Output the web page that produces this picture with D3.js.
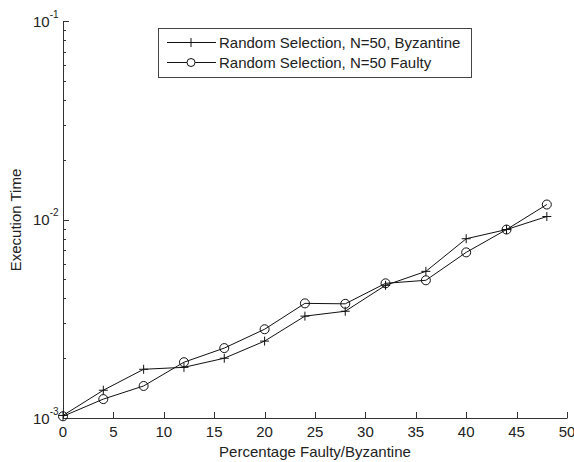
<!DOCTYPE html>
<html>
<head>
<meta charset="utf-8">
<script src="https://cdn.jsdelivr.net/npm/d3@7"></script>
<style>
body { margin:0; background:#fff; }
text { font-family: "Liberation Sans", Arial, sans-serif; fill:#222; }
</style>
</head>
<body>
<svg id="chart" width="574" height="462"></svg>
<script>
var svg = d3.select('#chart');

var pct = [0, 4, 8, 12, 16, 20, 24, 28, 32, 36, 40, 44, 48];

var byzantine = [1.03e-3, 1.38e-3, 1.76e-3, 1.80e-3, 2.0e-3, 2.44e-3, 3.26e-3,
	3.45e-3, 4.66e-3, 5.48e-3, 8.0e-3, 8.9e-3, 1.035e-2];

var faulty = [1.02e-3, 1.245e-3, 1.45e-3, 1.91e-3, 2.25e-3, 2.8e-3, 3.78e-3,
	3.76e-3, 4.77e-3, 4.94e-3, 6.83e-3, 8.9e-3, 1.19e-2];

var xTicks = [0, 5, 10, 15, 20, 25, 30, 35, 40, 45, 50];
var yExps = [-3, -2, -1];
var names = ["Random Selection, N=50, Byzantine", "Random Selection, N=50 Faulty"];

var x = d3.scaleLinear().domain([0, 50]).range([63, 567]);
var y = d3.scaleLog().domain([1e-3, 1e-1]).range([418, 21]);

var axisColor = "#333";
var fs = 15;

// minor ticks on the log axis
var minor = [];
[1e-3, 1e-2].forEach(function(d){
	for (var k = 2; k <= 9; k++) minor.push(d * k);
});

var g = svg.append("g");

g.selectAll(".minor")
	.data(minor)
	.enter()
	.append("line")
	.attr("x1", x(0)).attr("x2", x(0) + 3)
	.attr("y1", function(d){ return Math.round(y(d)) + 0.5; })
	.attr("y2", function(d){ return Math.round(y(d)) + 0.5; })
	.attr("stroke", axisColor);

g.selectAll(".major")
	.data(yExps)
	.enter()
	.append("line")
	.attr("x1", x(0)).attr("x2", x(0) + 6)
	.attr("y1", function(d){ return Math.round(y(Math.pow(10, d))) + 0.5; })
	.attr("y2", function(d){ return Math.round(y(Math.pow(10, d))) + 0.5; })
	.attr("stroke", axisColor);

g.selectAll(".xtick")
	.data(xTicks)
	.enter()
	.append("line")
	.attr("x1", function(d){ return Math.round(x(d)) + 0.5; })
	.attr("x2", function(d){ return Math.round(x(d)) + 0.5; })
	.attr("y1", y(1e-3)).attr("y2", y(1e-3) - 6)
	.attr("stroke", axisColor);

// axis lines
g.append("line")
	.attr("x1", x(0) + 0.5).attr("x2", x(0) + 0.5)
	.attr("y1", y(1e-1)).attr("y2", y(1e-3) + 0.5)
	.attr("stroke", axisColor);
g.append("line")
	.attr("x1", x(0)).attr("x2", x(50) + 0.5)
	.attr("y1", y(1e-3) + 0.5).attr("y2", y(1e-3) + 0.5)
	.attr("stroke", axisColor);

// tick labels
g.selectAll(".xlab")
	.data(xTicks)
	.enter()
	.append("text")
	.attr("x", function(d){ return x(d); })
	.attr("y", 437)
	.attr("text-anchor", "middle")
	.attr("font-size", fs)
	.text(function(d){ return d; });

var yl = g.selectAll(".ylab")
	.data(yExps)
	.enter()
	.append("text")
	.attr("x", 33)
	.attr("y", function(d){ return y(Math.pow(10, d)) + 5.5; })
	.attr("font-size", fs);
yl.append("tspan").text("10");
yl.append("tspan").attr("dy", -9).attr("font-size", 10)
	.text(function(d){ return d; });

g.append("text")
	.attr("x", x(25))
	.attr("y", 457)
	.attr("text-anchor", "middle")
	.attr("font-size", fs)
	.text("Percentage Faulty/Byzantine");

g.append("text")
	.attr("transform", "translate(21," + 220 + ") rotate(-90)")
	.attr("text-anchor", "middle")
	.attr("font-size", fs)
	.text("Execution Time");

// series
var line = d3.line()
	.x(function(d, i){ return x(pct[i]); })
	.y(function(d){ return y(d); });

svg.append("path").datum(byzantine)
	.attr("d", line).attr("fill", "none").attr("stroke", "#111").attr("stroke-width", 1);
svg.append("path").datum(faulty)
	.attr("d", line).attr("fill", "none").attr("stroke", "#111").attr("stroke-width", 1);

var plus = function(sel, cx, cy){
	sel.append("path")
		.attr("d", "M" + (cx - 4.5) + "," + cy + "H" + (cx + 4.5) + "M" + cx + "," + (cy - 4.5) + "V" + (cy + 4.5))
		.attr("stroke", "#111").attr("fill", "none");
};

byzantine.forEach(function(d, i){ plus(svg, x(pct[i]), y(d)); });

svg.selectAll(".circ")
	.data(faulty)
	.enter()
	.append("circle")
	.attr("cx", function(d, i){ return x(pct[i]); })
	.attr("cy", function(d){ return y(d); })
	.attr("r", 4.5)
	.attr("fill", "none")
	.attr("stroke", "#111");

// legend, centred over the axes like matlab 'North'
var lg = svg.append("g");
lg.append("rect")
	.attr("x", 158.5).attr("y", 28.5)
	.attr("width", 313).attr("height", 49)
	.attr("fill", "#fff").attr("stroke", "#444");
names.forEach(function(n, i){
	var ly = 42.5 + i * 20;
	lg.append("line")
		.attr("x1", 167).attr("x2", 216)
		.attr("y1", ly).attr("y2", ly)
		.attr("stroke", "#111");
	if (i == 0) plus(lg, 191, ly);
	else lg.append("circle").attr("cx", 191).attr("cy", ly).attr("r", 4)
		.attr("fill", "#fff").attr("stroke", "#111");
	lg.append("text")
		.attr("x", 219).attr("y", ly + 5.5)
		.attr("font-size", fs)
		.text(n);
});
</script>
</body>
</html>
